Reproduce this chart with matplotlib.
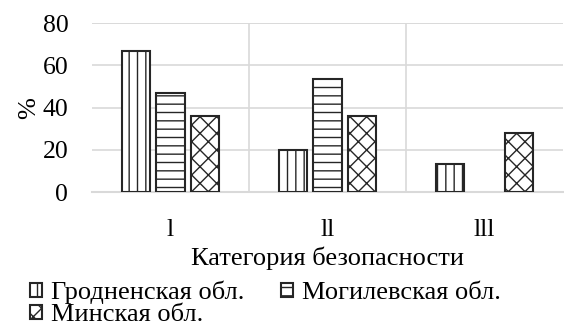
import numpy as np
from matplotlib import pyplot as plt

plt.rcParams['font.family'] = ['Liberation Serif', 'DejaVu Serif']
plt.rcParams['hatch.linewidth'] = 1.0

# data
categories = ['l', 'll', 'lll']
regions = ['Гродненская обл.', 'Могилевская обл.', 'Минская обл.']
grodno = [66.7, 20.0, 13.3]
mogilev = [46.7, 53.3, 0.0]
minsk = [36.0, 36.0, 28.0]
hatches = ['||', '--', 'xx']

series = [grodno, mogilev, minsk]

fig = plt.figure(figsize=(5.64, 3.29), dpi=100)
ax = fig.add_axes([0.163, 0.416, 0.835, 0.514])

x = np.arange(len(categories))
width = 0.18
step = 0.22
handles = []
for i, (vals, name, h) in enumerate(zip(series, regions, hatches)):
    bars = ax.bar(x + (i - 1) * step, vals, width, label=name, color='white',
                  edgecolor='#262626', linewidth=1.5, hatch=h, zorder=3)
    for b, v in zip(bars, vals):
        if v == 0:
            b.set_visible(False)
    handles.append(bars)

ax.set_xlim(-0.5, len(categories) - 0.5)
ax.set_ylim(0, 80)
ax.set_yticks([0, 20, 40, 60, 80])
ax.set_xticks(x)
ax.set_xticklabels(categories)

# grid: horizontal lines and category separators
ax.yaxis.grid(True, color='#d9d9d9', linewidth=1.2, zorder=0)
for b in [0.5, 1.5]:
    ax.axvline(b, color='#d9d9d9', linewidth=1.2, zorder=0)
ax.axhline(80, color='#d9d9d9', linewidth=1.2, zorder=0)

for s in ['top', 'right', 'left']:
    ax.spines[s].set_visible(False)
ax.spines['bottom'].set_color('#d9d9d9')
ax.spines['bottom'].set_linewidth(1.5)
ax.tick_params(length=0, labelsize=18.5)
ax.tick_params(axis='x', pad=19)
ax.tick_params(axis='y', pad=17)

ax.set_xlabel('Категория безопасности', fontsize=19, labelpad=4)
ax.set_ylabel('%', fontsize=19, labelpad=2)

# legend filled row by row: Гродненская, Могилевская / Минская
order = [0, 2, 1]
fig.legend([handles[k] for k in order], [regions[k] for k in order],
           loc='upper left', bbox_to_anchor=(0.053, 0.147), ncol=2,
           frameon=False, fontsize=19, handlelength=0.45, handleheight=0.45,
           handletextpad=0.35, columnspacing=1.4, borderaxespad=0,
           borderpad=0, labelspacing=0.0)

plt.savefig('out.png', dpi=100)
